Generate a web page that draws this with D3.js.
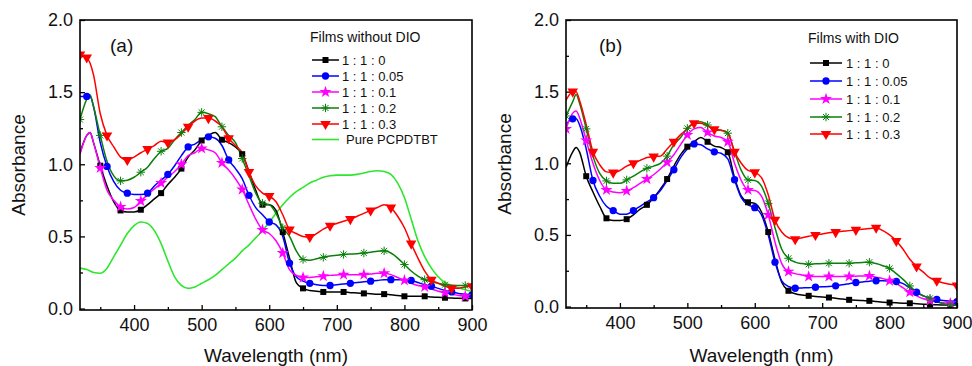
<!DOCTYPE html>
<html><head><meta charset="utf-8">
<script src="https://cdnjs.cloudflare.com/ajax/libs/d3/7.8.5/d3.min.js"></script>
<style>body{margin:0;background:#fff}svg{display:block}text{font-family:Arial,"Liberation Sans",sans-serif}</style>
</head><body><svg id="c" width="972" height="366"></svg>
<script>
// ---------- DATA ----------
const wavelengths = [320,330,335,340,350,360,370,380,390,400,410,420,430,440,450,460,470,480,490,500,510,520,530,540,550,560,570,580,590,600,610,620,630,640,650,660,670,680,690,700,710,720,730,740,750,760,770,780,790,800,810,820,830,840,850,860,870,880,890,900];
const xTicks = [400,500,600,700,800,900];
const xMinor = [350,450,550,650,750,850];
const yTicks = [0,0.5,1.0,1.5,2.0];
const yMinor = [0.25,0.75,1.25,1.75];
const seriesNames = ["1 : 1 : 0","1 : 1 : 0.05","1 : 1 : 0.1","1 : 1 : 0.2","1 : 1 : 0.3"];
const pureName = "Pure PCPDTBT";

// Panel (a): films without DIO
const a_r0   = [1.08,1.20,1.22,1.15,0.99,0.85,0.74,0.68,0.67,0.67,0.685,0.72,0.76,0.80,0.86,0.91,0.97,1.05,1.10,1.165,1.20,1.22,1.17,1.15,1.12,1.07,0.95,0.82,0.72,0.72,0.68,0.53,0.35,0.18,0.14,0.125,0.12,0.115,0.115,0.115,0.115,0.11,0.108,0.105,0.103,0.10,0.10,0.095,0.09,0.085,0.085,0.085,0.085,0.08,0.078,0.075,0.073,0.071,0.07,0.07];
const a_r005 = [1.47,1.47,1.47,1.40,1.15,0.985,0.88,0.82,0.80,0.79,0.79,0.80,0.85,0.89,0.93,0.99,1.06,1.12,1.14,1.17,1.19,1.18,1.13,1.03,0.97,0.90,0.785,0.70,0.65,0.60,0.58,0.50,0.315,0.22,0.19,0.175,0.165,0.16,0.16,0.165,0.17,0.175,0.18,0.185,0.19,0.195,0.20,0.20,0.20,0.20,0.195,0.18,0.165,0.155,0.14,0.125,0.115,0.105,0.10,0.095];
const a_r01  = [1.07,1.20,1.22,1.15,0.975,0.82,0.75,0.705,0.69,0.70,0.745,0.79,0.83,0.87,0.91,0.95,1.00,1.06,1.08,1.11,1.10,1.08,1.01,0.96,0.90,0.825,0.72,0.62,0.545,0.52,0.47,0.385,0.27,0.23,0.215,0.215,0.22,0.225,0.23,0.233,0.235,0.235,0.235,0.235,0.24,0.245,0.245,0.235,0.215,0.195,0.175,0.16,0.15,0.135,0.12,0.11,0.10,0.09,0.085,0.08];
const a_r02  = [1.31,1.45,1.48,1.40,1.20,1.02,0.92,0.885,0.89,0.91,0.945,0.98,1.04,1.09,1.11,1.17,1.22,1.27,1.31,1.36,1.35,1.33,1.26,1.20,1.15,1.04,0.92,0.80,0.73,0.72,0.66,0.56,0.50,0.40,0.34,0.335,0.345,0.355,0.365,0.37,0.375,0.378,0.38,0.385,0.39,0.398,0.40,0.385,0.35,0.305,0.26,0.225,0.20,0.185,0.175,0.165,0.162,0.16,0.16,0.16];
const a_r03  = [1.76,1.74,1.70,1.62,1.35,1.20,1.12,1.05,1.03,1.05,1.08,1.105,1.13,1.16,1.15,1.17,1.21,1.26,1.30,1.32,1.32,1.30,1.26,1.18,1.13,1.08,0.946,0.85,0.80,0.78,0.74,0.65,0.547,0.52,0.50,0.496,0.52,0.55,0.574,0.59,0.605,0.62,0.64,0.66,0.68,0.70,0.72,0.70,0.64,0.56,0.45,0.35,0.26,0.20,0.175,0.155,0.14,0.14,0.15,0.155];
const a_pure = [0.28,0.27,0.26,0.25,0.245,0.28,0.36,0.44,0.52,0.575,0.60,0.59,0.54,0.45,0.33,0.22,0.16,0.14,0.15,0.175,0.20,0.23,0.27,0.31,0.35,0.40,0.44,0.49,0.54,0.60,0.66,0.72,0.77,0.81,0.84,0.87,0.89,0.91,0.92,0.925,0.925,0.925,0.93,0.94,0.95,0.955,0.95,0.93,0.87,0.77,0.62,0.47,0.36,0.28,0.22,0.18,0.16,0.145,0.13,0.12];

// Panel (b): films with DIO
const b_r0   = [0.97,1.08,1.11,1.08,0.91,0.80,0.70,0.616,0.60,0.60,0.61,0.64,0.68,0.71,0.76,0.82,0.89,0.98,1.06,1.116,1.15,1.18,1.15,1.12,1.11,1.077,0.90,0.77,0.728,0.72,0.66,0.52,0.33,0.17,0.11,0.09,0.08,0.075,0.07,0.066,0.063,0.058,0.052,0.047,0.044,0.042,0.04,0.035,0.03,0.028,0.026,0.024,0.023,0.02,0.017,0.014,0.012,0.011,0.01,0.01];
const b_r005 = [1.27,1.31,1.31,1.27,1.10,0.88,0.77,0.70,0.67,0.645,0.645,0.67,0.70,0.73,0.76,0.81,0.88,0.955,1.04,1.10,1.135,1.13,1.10,1.08,1.07,1.03,0.885,0.76,0.71,0.69,0.64,0.50,0.31,0.18,0.14,0.128,0.13,0.132,0.135,0.138,0.14,0.145,0.152,0.16,0.168,0.172,0.177,0.18,0.18,0.178,0.175,0.16,0.13,0.10,0.075,0.06,0.05,0.042,0.038,0.035];
const b_r01  = [1.24,1.35,1.365,1.32,1.16,1.00,0.88,0.814,0.80,0.795,0.807,0.83,0.86,0.89,0.92,0.96,1.007,1.06,1.13,1.198,1.24,1.25,1.216,1.19,1.18,1.15,1.00,0.88,0.814,0.81,0.77,0.64,0.45,0.30,0.244,0.23,0.22,0.21,0.21,0.21,0.21,0.21,0.21,0.21,0.212,0.214,0.214,0.205,0.195,0.18,0.16,0.13,0.10,0.075,0.055,0.042,0.032,0.026,0.023,0.02];
const b_r02  = [1.33,1.43,1.48,1.42,1.24,1.05,0.93,0.877,0.86,0.86,0.884,0.91,0.94,0.965,0.98,1.00,1.05,1.13,1.18,1.244,1.28,1.29,1.267,1.23,1.23,1.21,1.08,0.95,0.884,0.88,0.84,0.72,0.55,0.40,0.337,0.31,0.30,0.295,0.298,0.30,0.302,0.302,0.302,0.302,0.305,0.308,0.31,0.30,0.285,0.267,0.23,0.19,0.144,0.10,0.075,0.058,0.035,0.02,0.012,0.01];
const b_r03  = [1.44,1.50,1.50,1.44,1.27,1.08,0.99,0.94,0.935,0.95,0.98,1.00,1.02,1.04,1.047,1.05,1.10,1.15,1.20,1.24,1.28,1.28,1.26,1.237,1.23,1.21,1.08,1.00,0.95,0.937,0.90,0.78,0.605,0.52,0.48,0.47,0.48,0.49,0.50,0.507,0.515,0.52,0.525,0.53,0.535,0.54,0.545,0.55,0.53,0.50,0.458,0.40,0.33,0.28,0.24,0.20,0.18,0.165,0.155,0.147];

// marker wavelengths per series
const markersA = [
  [350,380,410,440,470,500,530,560,590,620,650,680,710,740,770,800,830,860,890],
  [330,360,390,420,450,480,510,540,570,600,630,660,690,720,750,780,810,840,870,900],
  [350,380,410,440,470,500,530,560,590,620,650,680,710,740,770,800,830,860,890],
  [320,350,380,410,440,470,500,530,560,590,620,650,680,710,740,770,800,830,860,890],
  [320,330,360,390,420,450,480,510,540,570,600,630,660,690,720,750,780,810,840,870,900]
];
const markersB = [
  [350,380,410,440,470,500,530,560,590,620,650,680,710,740,770,800,830,860,890],
  [330,360,390,420,450,480,510,540,570,600,630,660,690,720,750,780,810,840,870,900],
  [320,350,380,410,440,470,500,530,560,590,620,650,680,710,740,770,800,830,860,890],
  [320,350,380,410,440,470,500,530,560,590,620,650,680,710,740,770,800,830,860,890],
  [330,360,390,420,450,480,510,540,570,600,630,660,690,720,750,780,810,840,870,900]
];

const colors = ["#000000","#0000ff","#ff00ff","#0a800a","#ff0000"];
const pureColor = "#2ee62e";
const shapes = ["square","circle","star","asterisk","tridown"];

// ---------- DRAW ----------
const svg = d3.select("#c");

function markerPath(shape){
  if(shape==="square") return d3.symbol(d3.symbolSquare,36)();
  if(shape==="circle") return d3.symbol(d3.symbolCircle,42)();
  if(shape==="star") return d3.symbol(d3.symbolStar,45)();
  if(shape==="tridown") return d3.symbol(d3.symbolTriangle,48)();
  // asterisk: 8 spokes
  const r=4.2, p=d3.path();
  for(let k=0;k<4;k++){const a=k*Math.PI/4;p.moveTo(-r*Math.cos(a),-r*Math.sin(a));p.lineTo(r*Math.cos(a),r*Math.sin(a));}
  return p.toString();
}
function drawMarker(g,shape,color,x,y){
  const m=g.append("path").attr("d",markerPath(shape)).attr("transform",`translate(${x},${y})`+(shape==="tridown"?" rotate(180)":""));
  if(shape==="asterisk") m.attr("fill","none").attr("stroke",color).attr("stroke-width",1);
  else m.attr("fill",color);
}

function panel(cfg){
  const x=d3.scaleLinear().domain([320,900]).range([cfg.x0,cfg.x1]);
  const y=d3.scaleLinear().domain([-0.01,2.0]).range([cfg.y1,cfg.y0]);
  const g=svg.append("g");
  // axes
  const xa=g.append("g").attr("transform",`translate(0,${cfg.y1})`)
    .call(d3.axisBottom(x).tickValues(xTicks).tickFormat(d3.format("d")).tickSize(-5).tickPadding(8));
  g.append("g").attr("transform",`translate(0,${cfg.y1})`)
    .call(d3.axisBottom(x).tickValues(xMinor).tickFormat("").tickSize(-3));
  const ya=g.append("g").attr("transform",`translate(${cfg.x0},0)`)
    .call(d3.axisLeft(y).tickValues(yTicks).tickFormat(d3.format(".1f")).tickSize(-5).tickPadding(7));
  g.append("g").attr("transform",`translate(${cfg.x0},0)`)
    .call(d3.axisLeft(y).tickValues(yMinor).tickFormat("").tickSize(-3));
  g.selectAll(".domain").remove();
  g.selectAll(".tick line").attr("stroke","#000").attr("stroke-width",1.3);
  g.selectAll(".tick text").attr("font-size",18).attr("fill","#111").attr("font-family","Arial, 'Liberation Sans', sans-serif");

  const clip="clip"+cfg.id;
  svg.append("defs").append("clipPath").attr("id",clip).append("rect")
    .attr("x",cfg.x0).attr("y",cfg.y0).attr("width",cfg.x1-cfg.x0).attr("height",cfg.y1-cfg.y0);
  const plot=g.append("g").attr("clip-path",`url(#${clip})`);
  const line=d3.line().x((d,i)=>x(wavelengths[i])).y(d=>y(d)).curve(d3.curveMonotoneX);

  if(cfg.pure){
    plot.append("path").attr("d",line(cfg.pure)).attr("fill","none").attr("stroke",pureColor).attr("stroke-width",1.6);
  }
  cfg.series.forEach((s,k)=>{
    plot.append("path").attr("d",line(s)).attr("fill","none").attr("stroke",colors[k]).attr("stroke-width",1.5);
  });
  cfg.series.forEach((s,k)=>{
    cfg.markers[k].forEach(w=>{
      const i=wavelengths.indexOf(w);
      drawMarker(plot,shapes[k],colors[k],x(w),y(s[i]));
    });
  });
  // frame
  g.append("rect").attr("x",cfg.x0).attr("y",cfg.y0).attr("width",cfg.x1-cfg.x0).attr("height",cfg.y1-cfg.y0)
    .attr("fill","none").attr("stroke","#000").attr("stroke-width",1.6);

  // labels
  g.append("text").attr("x",cfg.labX).attr("y",52).attr("font-size",19).attr("fill","#111").text(cfg.label);
  g.append("text").attr("transform",`translate(${cfg.x0-62},${(cfg.y0+cfg.y1)/2}) rotate(-90)`)
    .attr("text-anchor","middle").attr("dy","0.35em").attr("font-size",19).attr("fill","#111").text("Absorbance");
  g.append("text").attr("x",(cfg.x0+cfg.x1)/2).attr("y",362).attr("text-anchor","middle")
    .attr("font-size",19).attr("fill","#111").text("Wavelength (nm)");

  // legend
  const L=cfg.legend;
  g.append("text").attr("x",L.titleX).attr("y",L.titleY).attr("font-size",14).attr("fill","#111").text(cfg.title);
  seriesNames.forEach((n,k)=>{
    const yy=L.rows[k];
    g.append("line").attr("x1",L.lx0).attr("x2",L.lx1).attr("y1",yy).attr("y2",yy).attr("stroke",colors[k]).attr("stroke-width",1.5);
    drawMarker(g,shapes[k],colors[k],(L.lx0+L.lx1)/2,yy);
    g.append("text").attr("x",L.tx).attr("y",yy).attr("dy","0.36em").attr("font-size",13).attr("fill","#111").text(n);
  });
  if(cfg.pure){
    const yy=L.rows[5];
    g.append("line").attr("x1",L.lx0).attr("x2",L.lx1).attr("y1",yy).attr("y2",yy).attr("stroke",pureColor).attr("stroke-width",1.6);
    g.append("text").attr("x",L.tx+4).attr("y",yy).attr("dy","0.36em").attr("font-size",13).attr("fill","#111").text(pureName);
  }
}

panel({id:"a",x0:80,x1:472,y0:20,y1:310,label:"(a)",labX:110,title:"Films without DIO",
  series:[a_r0,a_r005,a_r01,a_r02,a_r03],pure:a_pure,markers:markersA,
  legend:{titleX:310,titleY:42,rows:[60,76,92,108,124,139.5],lx0:312,lx1:339,tx:342}});
panel({id:"b",x0:566,x1:957,y0:20,y1:308,label:"(b)",labX:599,title:"Films with DIO",
  series:[b_r0,b_r005,b_r01,b_r02,b_r03],pure:null,markers:markersB,
  legend:{titleX:808,titleY:43,rows:[63,81,99,117,134],lx0:810,lx1:842,tx:846}});
</script></body></html>
